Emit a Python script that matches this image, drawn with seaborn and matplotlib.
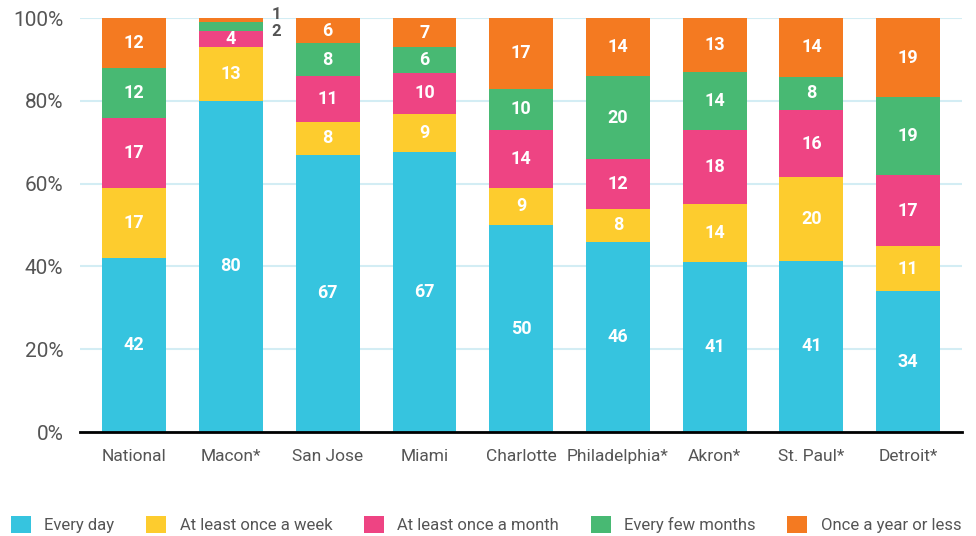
import numpy as np
import pandas as pd
import matplotlib
matplotlib.use("Agg")
import matplotlib.pyplot as plt
import seaborn as sns

sns.set_style("white")
plt.rcParams['font.family'] = ['Roboto', 'DejaVu Sans']

# Data
cities = ["National", "Macon*", "San Jose", "Miami", "Charlotte",
          "Philadelphia*", "Akron*", "St. Paul*", "Detroit*"]
every_day = [42, 80, 67, 67, 50, 46, 41, 41, 34]
once_week = [17, 13, 8, 9, 9, 8, 14, 20, 11]
once_month = [17, 4, 11, 10, 14, 12, 18, 16, 17]
few_months = [12, 2, 8, 6, 10, 20, 14, 8, 19]
once_year = [12, 1, 6, 7, 17, 14, 13, 14, 19]

series_names = ["Every day", "At least once a week", "At least once a month",
                "Every few months", "Once a year or less"]
colors = ["#36C4DF", "#FDCC2E", "#EE4483", "#48B973", "#F47A21"]

df = pd.DataFrame({"City": cities,
                   "Every day": every_day,
                   "At least once a week": once_week,
                   "At least once a month": once_month,
                   "Every few months": few_months,
                   "Once a year or less": once_year})

vals = df[series_names].to_numpy(dtype=float)
heights = vals / vals.sum(axis=1, keepdims=True) * 100

fig, ax = plt.subplots(figsize=(9.76, 5.36), dpi=100)
fig.subplots_adjust(left=0.082, right=0.986, top=0.966, bottom=0.194)

bottom = np.zeros(len(cities))
for i, name in enumerate(series_names):
    sns.barplot(x=df["City"], y=heights[:, i], bottom=bottom, color=colors[i],
                width=0.66, ax=ax, label=name, saturation=1, zorder=3,
                linewidth=0, edgecolor="none")
    for j in range(len(cities)):
        v = vals[j, i]
        mid = bottom[j] + heights[j, i] / 2
        if cities[j] == "Macon*" and v < 3:
            continue
        ax.text(j, mid, f"{int(v)}", ha="center", va="center", color="white",
                fontsize=13, fontweight="bold", zorder=4)
    bottom = bottom + heights[:, i]

# small Macon labels outside the bar
mi = cities.index("Macon*")
ax.text(mi + 0.42, 101.0, f"{once_year[mi]}", ha="left", va="center",
        color="#555555", fontsize=12, fontweight="bold", clip_on=False)
ax.text(mi + 0.42, 96.8, f"{few_months[mi]}", ha="left", va="center",
        color="#555555", fontsize=12, fontweight="bold", clip_on=False)

ax.set_xlim(-0.56, len(cities) - 0.44)
ax.set_ylim(0, 100)
ax.set_yticks([0, 20, 40, 60, 80, 100])
ax.set_yticklabels([f"{t}%" for t in [0, 20, 40, 60, 80, 100]])
ax.yaxis.grid(True, color="#D3EDF4", linewidth=1.5, zorder=0)
ax.tick_params(axis="y", labelsize=15, labelcolor="#555555", length=0, pad=12)
ax.tick_params(axis="x", labelsize=12.5, labelcolor="#555555", length=0, pad=12)
ax.set_xlabel("")
ax.set_ylabel("")
for s in ["top", "right", "left"]:
    ax.spines[s].set_visible(False)
ax.spines["bottom"].set_color("black")
ax.spines["bottom"].set_linewidth(2)
ax.spines["bottom"].set_zorder(5)

handles, labels = ax.get_legend_handles_labels()
fig.legend(handles, labels, loc="lower left", bbox_to_anchor=(-0.004, -0.022),
           ncol=5, frameon=False, fontsize=12, handlelength=1.2,
           handleheight=1.2, handletextpad=0.8, columnspacing=1.9,
           labelcolor="#555555")
if ax.legend_:
    ax.legend_.remove()

fig.savefig("out.png", dpi=100)
